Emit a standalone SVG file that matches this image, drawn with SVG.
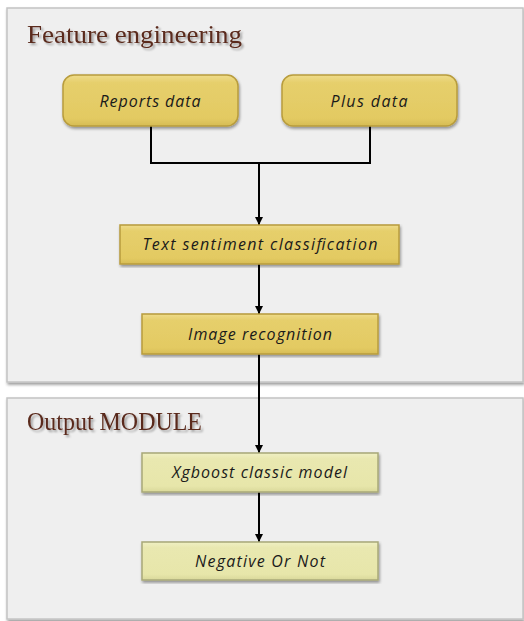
<svg xmlns="http://www.w3.org/2000/svg" width="524" height="621" viewBox="0 0 524 621">
<defs>
<linearGradient id="gold" x1="0" y1="0" x2="0" y2="1">
<stop offset="0" stop-color="#efdc8c"/>
<stop offset="0.15" stop-color="#e6cf6c"/>
<stop offset="0.85" stop-color="#e3ca62"/>
<stop offset="1" stop-color="#d6bc55"/>
</linearGradient>
<linearGradient id="pale" x1="0" y1="0" x2="0" y2="1">
<stop offset="0" stop-color="#f0f0c4"/>
<stop offset="0.15" stop-color="#e9e8b0"/>
<stop offset="0.85" stop-color="#e7e6aa"/>
<stop offset="1" stop-color="#d9d89a"/>
</linearGradient>
<filter id="sh" x="-5%" y="-5%" width="110%" height="115%">
<feGaussianBlur in="SourceAlpha" stdDeviation="1.5"/>
<feOffset dx="1" dy="1.5"/>
<feComponentTransfer><feFuncA type="linear" slope="0.4"/></feComponentTransfer>
<feMerge><feMergeNode/><feMergeNode in="SourceGraphic"/></feMerge>
</filter>
<filter id="tsh" x="-5%" y="-20%" width="110%" height="150%">
<feGaussianBlur in="SourceAlpha" stdDeviation="1.2"/>
<feOffset dx="1.5" dy="2"/>
<feComponentTransfer><feFuncA type="linear" slope="0.35"/></feComponentTransfer>
<feMerge><feMergeNode/><feMergeNode in="SourceGraphic"/></feMerge>
</filter>
<marker id="ah" viewBox="0 0 10 10" refX="10" refY="5" markerWidth="4" markerHeight="4" orient="auto" markerUnits="strokeWidth">
<path d="M0,0 L10,5 L0,10 z" fill="#000"/>
</marker>
</defs>
<style>
.panel{fill:#efefef;stroke:#c4c4c4;stroke-width:1.5}
.title{font-family:"Liberation Serif",serif;font-size:25px;fill:#5a2a1c}
.gold{fill:url(#gold);stroke:#b89c3c;stroke-width:1.5}
.pale{fill:url(#pale);stroke:#a8a878;stroke-width:1.5}
.lbl{font-family:"Open Sans","DejaVu Sans",sans-serif;font-size:16px;fill:#1a1a1a;text-anchor:middle;font-style:italic}
.conn{fill:none;stroke:#000;stroke-width:2}
</style>
<rect width="524" height="621" fill="#ffffff"/>
<g id="panel-feature">
<rect class="panel" x="7" y="8" width="516" height="374" filter="url(#sh)"/>
<text class="title" x="27" y="43" textLength="215" lengthAdjust="spacingAndGlyphs" filter="url(#tsh)">Feature engineering</text>
</g>
<g id="panel-output">
<rect class="panel" x="7" y="398" width="516" height="221" filter="url(#sh)"/>
<text class="title" x="27" y="430" textLength="175" lengthAdjust="spacingAndGlyphs" filter="url(#tsh)">Output MODULE</text>
</g>
<g id="connectors">
<path class="conn" d="M151,126 V163 H370 V126"/>
<path class="conn" d="M259,163 V225" marker-end="url(#ah)"/>
<path class="conn" d="M259,264 V314" marker-end="url(#ah)"/>
<path class="conn" d="M259,354 V453" marker-end="url(#ah)"/>
<path class="conn" d="M259,492 V542" marker-end="url(#ah)"/>
</g>
<g id="reports-data">
<rect class="gold" x="63" y="75" width="175" height="51" rx="11" filter="url(#sh)"/>
<text class="lbl" x="150" y="107" textLength="101" lengthAdjust="spacing">Reports data</text>
</g>
<g id="plus-data">
<rect class="gold" x="282" y="75" width="175" height="51" rx="11" filter="url(#sh)"/>
<text class="lbl" x="369" y="107" textLength="77" lengthAdjust="spacing">Plus data</text>
</g>
<g id="text-sentiment">
<rect class="gold" x="120" y="225" width="279" height="39" filter="url(#sh)"/>
<text class="lbl" x="260" y="250" textLength="235" lengthAdjust="spacing">Text sentiment classification</text>
</g>
<g id="image-recognition">
<rect class="gold" x="142" y="314" width="236" height="40" filter="url(#sh)"/>
<text class="lbl" x="260" y="340" textLength="144" lengthAdjust="spacing">Image recognition</text>
</g>
<g id="xgboost">
<rect class="pale" x="142" y="453" width="236" height="39" filter="url(#sh)"/>
<text class="lbl" x="259.5" y="478" textLength="175" lengthAdjust="spacing">Xgboost classic model</text>
</g>
<g id="negative">
<rect class="pale" x="142" y="542" width="236" height="38" filter="url(#sh)"/>
<text class="lbl" x="260" y="567" textLength="130" lengthAdjust="spacing">Negative Or Not</text>
</g>
</svg>
